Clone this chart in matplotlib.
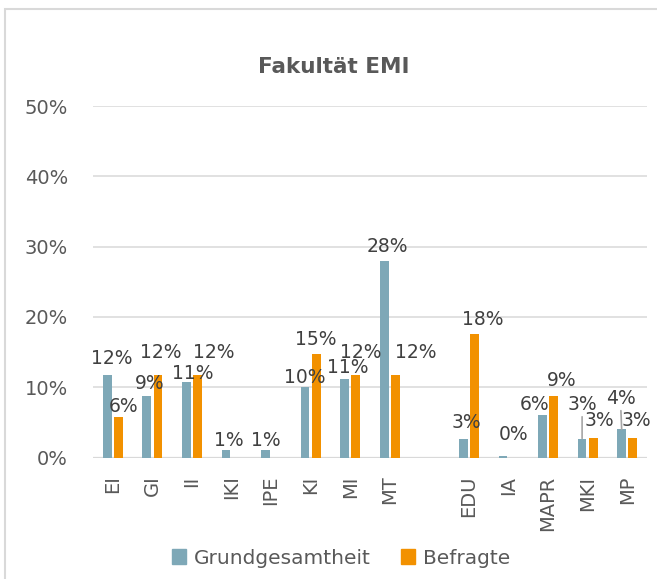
import numpy as np
import matplotlib
matplotlib.use('Agg')
import matplotlib.pyplot as plt
from matplotlib.patches import Patch, Rectangle

# data (percent)
cats = ['EI', 'GI', 'II', 'IKI', 'IPE', 'KI', 'MI', 'MT', 'EDU', 'IA', 'MAPR', 'MKI', 'MP']
slots = [0, 1, 2, 3, 4, 5, 6, 7, 9, 10, 11, 12, 13]  # one empty slot between MT and EDU
grund = [11.7, 8.8, 10.8, 1.0, 1.0, 10.0, 11.2, 27.9, 2.7, 0.24, 6.0, 2.7, 4.0]
befragte = [5.8, 11.8, 11.8, np.nan, np.nan, 14.7, 11.8, 11.8, 17.6, np.nan, 8.8, 2.8, 2.8]
series = ['Grundgesamtheit', 'Befragte']
yticks = [0, 10, 20, 30, 40, 50]

# label nudges in pixels (dx, dy above bar top)
g_dx = [5, 3, 6, 3, 0, 0, 3, 3, 3, 11, -8, 0, -1]
g_dy = [17, 12, 8, 10, 10, 10, 11, 15, 16, 21, 11, 34, 31]
b_dx = [5, 3, 16, 0, 0, 0, 5, 20, 8, 0, 8, 6, 4]
b_dy = [10, 22, 22, 0, 0, 15, 22, 22, 14, 0, 15, 17, 17]

c_grund = '#7EA8B7'
c_bef = '#F29100'
txt = '#595959'
lbl = '#404040'
grid_c = '#d9d9d9'

fig = plt.figure(figsize=(6.57, 5.79), dpi=100)
ax = fig.add_axes([93/657, 1-457.5/579, 554/657, 351.5/579])

x = np.array(slots, dtype=float)
w = 0.22
off = 0.14
ax.bar(x - off, grund, w, color=c_grund, zorder=3)
ax.bar(x + off, befragte, w, color=c_bef, zorder=3)

# data labels
for i in range(len(cats)):
	lead = None
	if g_dy[i] > 25:
		lead = dict(arrowstyle='-', color='#a6a6a6', lw=1.2, shrinkA=0, shrinkB=0, relpos=(0.5, 0.15))
	ax.annotate('%d%%' % round(grund[i]), xy=(x[i]-off, grund[i]), xytext=(g_dx[i], g_dy[i]),
		textcoords='offset pixels', ha='center', va='center', fontsize=13.5, color=lbl,
		arrowprops=lead, zorder=4)
	if not np.isnan(befragte[i]):
		ax.annotate('%d%%' % round(befragte[i]), xy=(x[i]+off, befragte[i]), xytext=(b_dx[i], b_dy[i]),
			textcoords='offset pixels', ha='center', va='center', fontsize=13.5, color=lbl, zorder=4)

ax.set_xlim(-0.5, 13.5)
ax.set_ylim(0, 50)
ax.set_yticks(yticks)
ax.set_yticklabels(['%d%%' % t for t in yticks])
ax.set_xticks(x)
ax.set_xticklabels(cats, rotation=90)
ax.tick_params(axis='y', length=0, pad=18, labelsize=14, labelcolor=txt)
ax.tick_params(axis='x', length=0, pad=13, labelsize=14, labelcolor=txt)
ax.grid(axis='y', color=grid_c, lw=1.1, zorder=0)
ax.axhline(0, color=grid_c, lw=1.6, zorder=2)
for s in ax.spines.values():
	s.set_visible(False)

# title
fig.text(333.5/657, 1-67/579, 'Fakultät EMI', ha='center', va='center',
	fontsize=15.5, fontweight='bold', color=txt)

# legend
handles = [Patch(color=c_grund), Patch(color=c_bef)]
fig.legend(handles, series, loc='center', bbox_to_anchor=(341/657, 1-558/579), ncol=2,
	frameon=False, fontsize=14.5, labelcolor=txt, handlelength=0.7, handleheight=0.7,
	handletextpad=0.4, columnspacing=1.5)

# outer border (runs off right and bottom edge)
fig.add_artist(Rectangle((5/657, -0.05), 1.1, 1.05-9/579, transform=fig.transFigure,
	fill=False, ec=grid_c, lw=1.5))

plt.savefig('out.png', dpi=100)
